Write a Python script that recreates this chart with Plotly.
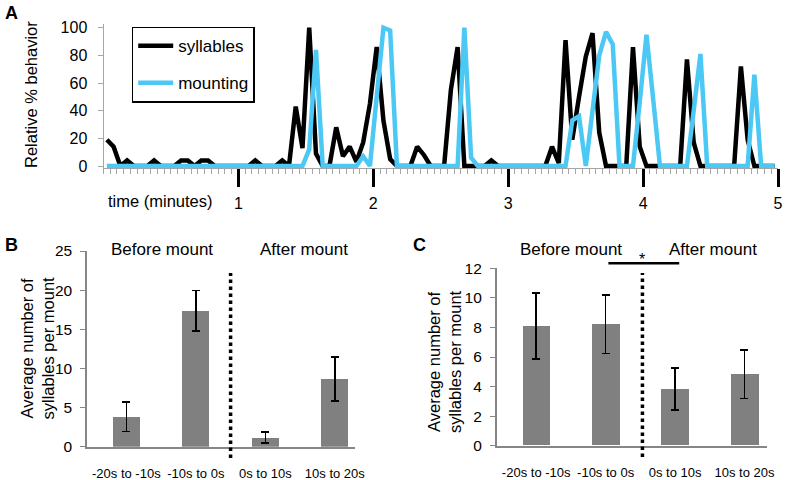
import plotly.graph_objects as go

W, H = 790, 480


def px(x):
    return x / W


def py(y):
    return 1 - y / H


# ---------------- Panel A data (3-s bins over 5 minutes) ----------------
bin_minutes = 0.05
syllables = [19, 14, 0, 4, 0, 0, 0, 4, 0, 0,
             0, 4, 4, 0, 4, 4, 0, 0, 0, 0,
             0, 0, 4, 0, 0, 0, 4, 0, 43, 13,
             100, 9, 0, 0, 28, 7, 14, 3, 17, 45,
             86, 33, 5, 0, 0, 0, 14, 8, 0, 0,
             0, 55, 86, 0, 0, 0, 0, 4, 0, 0,
             0, 0, 0, 0, 0, 0, 14, 2, 91, 19,
             50, 79, 96, 24, 0, 0, 0, 0, 86, 14,
             0, 0, 0, 0, 0, 0, 77, 17, 0, 0,
             0, 0, 0, 0, 72, 19, 0, 0, 0, 0]
mounting = [0, 0, 0, 0, 0, 0, 0, 0, 0, 0,
            0, 0, 0, 0, 0, 0, 0, 0, 0, 0,
            0, 0, 0, 0, 0, 0, 0, 0, 0, 0,
            12, 84, 0, 0, 0, 0, 0, 0, 7, 0,
            50, 100, 98, 0, 0, 0, 0, 0, 0, 0,
            0, 0, 0, 100, 6, 0, 0, 0, 0, 0,
            0, 0, 0, 0, 0, 0, 0, 0, 0, 33,
            36, 0, 42, 80, 97, 88, 0, 0, 0, 46,
            95, 48, 0, 0, 0, 0, 0, 40, 81, 0,
            0, 0, 0, 0, 0, 0, 66, 0, 0, 0]
time_min = [(i + 0.5) * bin_minutes for i in range(len(syllables))]
minute_ticks = [1, 2, 3, 4, 5]
a_yticks = [0, 20, 40, 60, 80, 100]

# ---------------- Panels B and C data ----------------
categories = ["-20s to -10s", "-10s to 0s", "0s to 10s", "10s to 20s"]
b_means = [3.83, 17.38, 1.15, 8.65]
b_err = [1.9, 2.6, 0.7, 2.8]
c_means = [8.1, 8.21, 3.83, 4.83]
c_err = [2.23, 1.97, 1.41, 1.65]
b_yticks = [0, 5, 10, 15, 20, 25]
c_yticks = [0, 2, 4, 6, 8, 10, 12]

FONT = "Liberation Sans, Arial, sans-serif"
AXC = "#a6a6a6"
AXC2 = "#868686"
BLUE = "#4cc8f5"
BARC = "#808080"

fig = go.Figure()

fig.add_trace(go.Scatter(x=time_min, y=syllables, mode="lines", name="syllables",
                         line=dict(color="black", width=4.5), legendgroup="s",
                         xaxis="x", yaxis="y"))
fig.add_trace(go.Scatter(x=time_min, y=mounting, mode="lines", name="mounting",
                         line=dict(color=BLUE, width=4.5), legendgroup="m",
                         xaxis="x", yaxis="y"))

err_style = dict(type="data", visible=True, color="black", thickness=1.5, width=4)
fig.add_trace(go.Bar(x=categories, y=b_means, width=0.39, marker_color=BARC,
                     marker_line_width=0,
                     error_y=dict(array=b_err, **err_style), showlegend=False,
                     xaxis="x2", yaxis="y2"))
fig.add_trace(go.Bar(x=categories, y=c_means, width=0.4, marker_color=BARC,
                     marker_line_width=0,
                     error_y=dict(array=c_err, **err_style), showlegend=False,
                     xaxis="x3", yaxis="y3"))

# y mapping for panel A: 0 -> 166 px, 100 -> 27.7 px
a_scale = (166 - 27.7) / 100
a_lo, a_hi = -1.6, 102.5
a_dom = [py(166 - a_lo * a_scale), py(166 - a_hi * a_scale)]

cat_x = dict(type="category", showgrid=False, zeroline=False, automargin=False,
             showline=True, linecolor=AXC2, linewidth=1.5, tickangle=0,
             ticks="outside", ticklen=14, tickcolor="rgba(0,0,0,0)",
             tickfont=dict(size=13))
bar_y = dict(showline=True, linecolor=AXC2, linewidth=1.5, ticks="outside",
             ticklen=5, tickcolor=AXC2, showgrid=False, zeroline=False,
             automargin=False, tickfont=dict(size=15.5), ticklabelstandoff=5)

fig.update_layout(
    template="none",
    width=W, height=H, autosize=False,
    margin=dict(l=0, r=0, t=0, b=0, pad=0),
    paper_bgcolor="white", plot_bgcolor="white",
    font=dict(family=FONT, color="black", size=15),
    bargap=0,
    legend=dict(x=px(131.7), y=py(26.7), xanchor="left", yanchor="top",
                bordercolor="black", borderwidth=1.5, bgcolor="white",
                font=dict(size=17, family=FONT), tracegroupgap=12,
                traceorder="grouped", itemwidth=35),
    xaxis=dict(domain=[px(103.5), px(778)], range=[0, 5], showline=True,
               linecolor=AXC, linewidth=1, showgrid=False, zeroline=False,
               automargin=False, tickmode="array", tickvals=minute_ticks,
               ticks="outside", ticklen=18, tickwidth=2.5, tickcolor="black",
               tickfont=dict(size=16), ticklabelstandoff=3,
               minor=dict(tickmode="linear", tick0=0, dtick=bin_minutes,
                          ticks="outside", ticklen=5, tickcolor=AXC, tickwidth=1,
                          showgrid=False)),
    yaxis=dict(domain=a_dom, range=[a_lo, a_hi], tickvals=a_yticks,
               showline=True, linecolor=AXC, linewidth=1, ticks="outside",
               ticklen=5, tickcolor=AXC, showgrid=False, zeroline=False,
               automargin=False, tickfont=dict(size=16), ticklabelstandoff=7,
               anchor="x"),
    xaxis2=dict(domain=[px(87), px(355)], range=[-0.566, 3.29], anchor="y2", **cat_x),
    yaxis2=dict(domain=[py(446.7), py(251)], range=[0, 25], tickvals=b_yticks,
                anchor="x2", **bar_y),
    xaxis3=dict(domain=[px(496.7), px(766.7)], range=[-0.569, 3.32], anchor="y3", **cat_x),
    yaxis3=dict(domain=[py(445.7), py(268.3)], range=[0, 12], tickvals=c_yticks,
                anchor="x3", **bar_y),
)

# divider lines and significance bar
fig.add_shape(type="line", xref="x2", yref="paper", x0=1.5, x1=1.5,
              y0=py(458), y1=py(273), line=dict(color="black", width=3.5, dash="dot"))
fig.add_shape(type="line", xref="x3", yref="paper", x0=1.53, x1=1.53,
              y0=py(457), y1=py(273), line=dict(color="black", width=3.5, dash="dot"))
fig.add_shape(type="line", xref="x3", yref="paper", x0=1.04, x1=2.06,
              y0=py(263.3), y1=py(263.3), line=dict(color="black", width=2.5))


def ann(text, x, y, size=16.5, bold=False, angle=0, xanchor="center"):
    fig.add_annotation(text=f"<b>{text}</b>" if bold else text, x=px(x), y=py(y),
                       xref="paper", yref="paper", showarrow=False,
                       font=dict(size=size, family=FONT, color="black"),
                       textangle=angle, xanchor=xanchor, yanchor="middle")


ann("A", 11, 13, size=18, bold=True)
ann("B", 11, 245, size=18, bold=True)
ann("C", 419, 245, size=18, bold=True)
ann("Relative % behavior", 31, 95, size=16.5, angle=-90)
ann("time (minutes)", 106, 201, size=16.5, xanchor="left")
ann("Average number of<br>syllables per mount", 36.5, 348, size=16.5, angle=-90)
ann("Average number of<br>syllables per mount", 444, 362, size=16.5, angle=-90)
ann("Before mount", 161.7, 249, size=17)
ann("After mount", 304, 249, size=17)
ann("Before mount", 570.8, 249, size=17)
ann("After mount", 713.3, 249, size=17)
ann("*", 642, 259, size=16)

fig.write_html(
    "out.html",
    config={"displayModeBar": False},
    post_script="document.body.style.margin='0';document.body.style.overflow='hidden';",
)
